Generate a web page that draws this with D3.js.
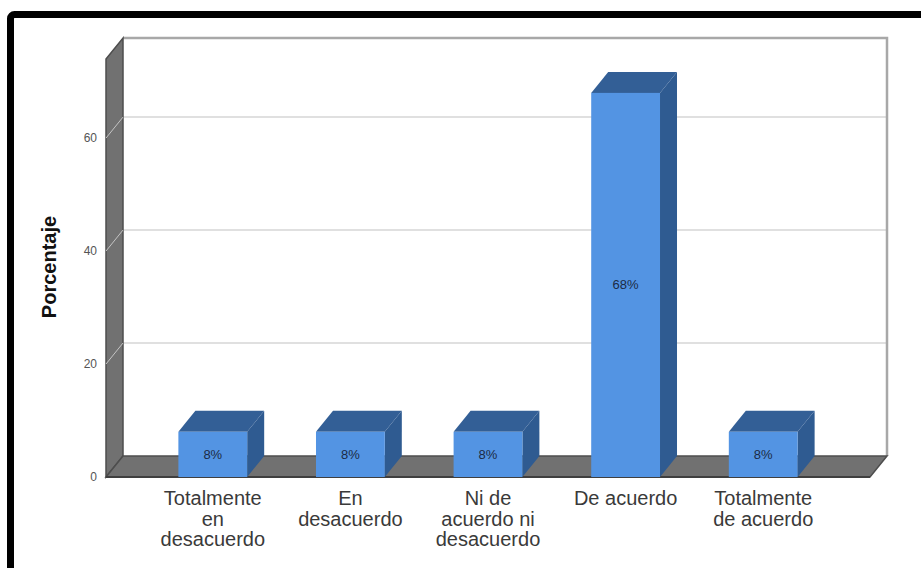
<!DOCTYPE html>
<html>
<head>
<meta charset="utf-8">
<script src="https://cdnjs.cloudflare.com/ajax/libs/d3/7.8.5/d3.min.js"></script>
<style>
  body { margin: 0; background: #fff; }
  text { font-family: "Liberation Sans", Arial, sans-serif; }
</style>
</head>
<body>
<svg width="921" height="568"></svg>
<script>
var categories = [
    ["Totalmente", "en", "desacuerdo"],
    ["En", "desacuerdo"],
    ["Ni de", "acuerdo ni", "desacuerdo"],
    ["De acuerdo"],
    ["Totalmente", "de acuerdo"]
];
var values = [8, 8, 8, 68, 8];
var valueLabels = ["8%", "8%", "8%", "68%", "8%"];
var yTicks = [0, 20, 40, 60];
var yTitle = "Porcentaje";

var svg = d3.select("svg");

// depth of the 3d effect
var dx = 17, dy = 21;

// front plane: floor front edge from 106 to 870
var x = d3.scaleBand()
    .domain(d3.range(values.length))
    .range([106, 870])
    .paddingInner(0.5)
    .paddingOuter(0.526);

// back wall scale
var y = d3.scaleLinear()
    .domain([0, 74])
    .range([456, 38]);

function yf(v) { return y(v) + dy; }

// outer frame
svg.append("rect")
    .attr("x", 10.5)
    .attr("y", 14.5)
    .attr("width", 1000)
    .attr("height", 1000)
    .attr("rx", 4)
    .attr("fill", "none")
    .attr("stroke", "#000")
    .attr("stroke-width", 7);

var x0 = x.range()[0], x1 = x.range()[1];

// back wall
svg.append("rect")
    .attr("x", x0 + dx)
    .attr("y", y(74))
    .attr("width", x1 - x0)
    .attr("height", y(0) - y(74))
    .attr("fill", "#fff");

// gridlines on the back wall
svg.append("g").selectAll("line")
    .data(yTicks.filter(function(d) { return d > 0; }))
    .enter().append("line")
    .attr("x1", x0 + dx)
    .attr("x2", x1 + dx)
    .attr("y1", function(d) { return y(d); })
    .attr("y2", function(d) { return y(d); })
    .attr("stroke", "#d6d6d6")
    .attr("stroke-width", 1.5);

// back wall top and right edges
svg.append("path")
    .attr("d", "M" + (x0 + dx) + "," + y(74) + "H" + (x1 + dx) + "V" + y(0))
    .attr("fill", "none")
    .attr("stroke", "#a8a8a8")
    .attr("stroke-width", 2.5);

// left side wall
svg.append("path")
    .attr("d", "M" + x0 + "," + yf(74) + "L" + (x0 + dx) + "," + y(74) +
        "V" + y(0) + "L" + x0 + "," + yf(0) + "Z")
    .attr("fill", "#717171")
    .attr("stroke", "#4d4d4d")
    .attr("stroke-width", 1.5);

// gridlines on the side wall
svg.append("g").selectAll("line")
    .data(yTicks.filter(function(d) { return d > 0; }))
    .enter().append("line")
    .attr("x1", x0)
    .attr("x2", x0 + dx)
    .attr("y1", function(d) { return yf(d); })
    .attr("y2", function(d) { return y(d); })
    .attr("stroke", "#c4c4c4")
    .attr("stroke-width", 1);

// floor
svg.append("path")
    .attr("d", "M" + x0 + "," + yf(0) + "L" + (x0 + dx) + "," + y(0) +
        "H" + (x1 + dx) + "L" + x1 + "," + yf(0) + "Z")
    .attr("fill", "#717171")
    .attr("stroke", "#4d4d4d")
    .attr("stroke-width", 1.5);

svg.append("line")
    .attr("x1", x0)
    .attr("x2", x1)
    .attr("y1", yf(0))
    .attr("y2", yf(0))
    .attr("stroke", "#3f3f3f")
    .attr("stroke-width", 2);

// y tick labels
svg.append("g").selectAll("text")
    .data(yTicks)
    .enter().append("text")
    .attr("x", x0 - 9)
    .attr("y", function(d) { return yf(d); })
    .attr("dy", "0.35em")
    .attr("text-anchor", "end")
    .attr("font-size", 12)
    .attr("fill", "#555")
    .text(function(d) { return d; });

// y title
svg.append("text")
    .attr("transform", "translate(56," + ((y(0) + y(74)) / 2 + 20) + ") rotate(-90)")
    .attr("text-anchor", "middle")
    .attr("font-size", 20)
    .attr("font-weight", "bold")
    .attr("fill", "#111")
    .text(yTitle);

// bars
var bars = svg.append("g").selectAll("g")
    .data(values)
    .enter().append("g");

bars.append("path")
    .attr("d", function(d, i) {
        var bx = x(i) + x.bandwidth(), t = yf(d), b = yf(0);
        return "M" + bx + "," + t + "L" + (bx + dx) + "," + (t - dy) +
            "V" + (b - dy) + "L" + bx + "," + b + "Z";
    })
    .attr("fill", "#2f5b91");

bars.append("path")
    .attr("d", function(d, i) {
        var bx = x(i), w = x.bandwidth(), t = yf(d);
        return "M" + bx + "," + t + "L" + (bx + dx) + "," + (t - dy) +
            "H" + (bx + w + dx) + "L" + (bx + w) + "," + t + "Z";
    })
    .attr("fill", "#335f96");

bars.append("rect")
    .attr("x", function(d, i) { return x(i); })
    .attr("y", function(d) { return yf(d); })
    .attr("width", x.bandwidth())
    .attr("height", function(d) { return yf(0) - yf(d); })
    .attr("fill", "#5394e3");

bars.append("text")
    .attr("x", function(d, i) { return x(i) + x.bandwidth() / 2; })
    .attr("y", function(d) { return (yf(d) + yf(0)) / 2; })
    .attr("dy", "0.35em")
    .attr("text-anchor", "middle")
    .attr("font-size", 13)
    .attr("fill", "#1c2b45")
    .text(function(d, i) { return valueLabels[i]; });

// category labels
var cats = svg.append("g").selectAll("text")
    .data(categories)
    .enter().append("text")
    .attr("text-anchor", "middle")
    .attr("font-size", 20)
    .attr("fill", "#3a3a3a")
    .attr("transform", function(d, i) {
        return "translate(" + (x(i) + x.bandwidth() / 2) + ",505)";
    });

cats.selectAll("tspan")
    .data(function(d) { return d; })
    .enter().append("tspan")
    .attr("x", 0)
    .attr("y", function(d, j) { return j * 20.5; })
    .text(function(d) { return d; });
</script>
</body>
</html>
